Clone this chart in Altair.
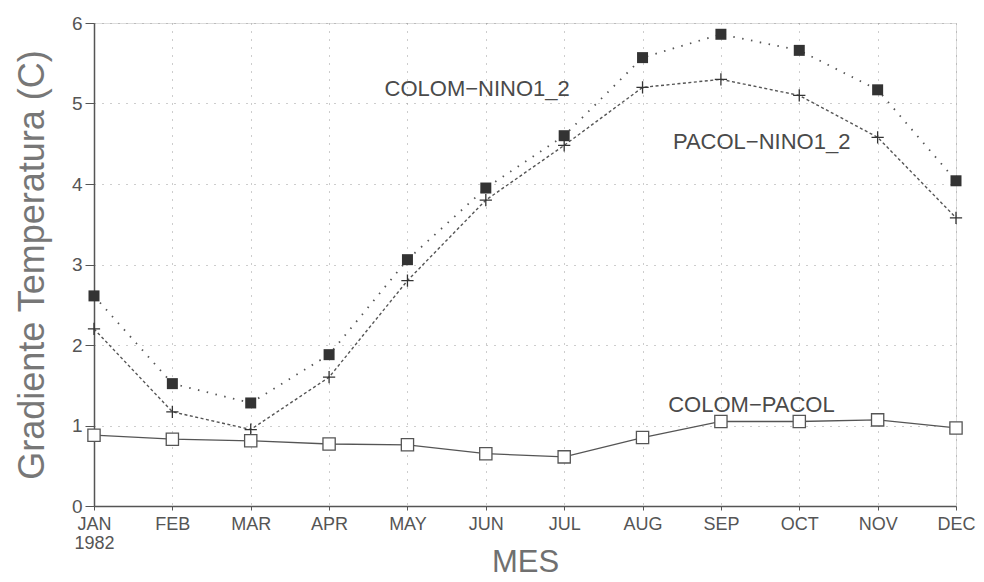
import altair as alt
import pandas as pd

months = ["JAN", "FEB", "MAR", "APR", "MAY", "JUN", "JUL", "AUG", "SEP", "OCT", "NOV", "DEC"]
year_label = "1982"
colom_nino = [2.61, 1.52, 1.28, 1.88, 3.06, 3.95, 4.60, 5.57, 5.86, 5.66, 5.17, 4.04]
pacol_nino = [2.20, 1.17, 0.95, 1.60, 2.80, 3.80, 4.48, 5.20, 5.30, 5.10, 4.58, 3.58]
colom_pacol = [0.88, 0.83, 0.81, 0.77, 0.76, 0.65, 0.61, 0.85, 1.05, 1.05, 1.07, 0.97]

label_text = ["COLOM\u2212NINO1_2", "PACOL\u2212NINO1_2", "COLOM\u2212PACOL"]
label_x = [4.89, 8.52, 8.39]
label_y = [5.18, 4.52, 1.25]

y_ticks = [0, 1, 2, 3, 4, 5, 6]

idx = list(range(len(months)))
df1 = pd.DataFrame({"m": idx, "v": colom_nino})
df2 = pd.DataFrame({"m": idx, "v": pacol_nino})
df3 = pd.DataFrame({"m": idx, "v": colom_pacol})
dlab = pd.DataFrame({"t": label_text, "x": label_x, "y": label_y})

ink = "#555555"
font = "Liberation Sans"

month_arr = "[" + ",".join(f"'{m}'" for m in months) + "]"
label_expr = f"datum.value == 0 ? [{month_arr}[0], '{year_label}'] : {month_arr}[datum.value]"

xs = alt.Scale(domain=[0, 11], nice=False, zero=False)
ys = alt.Scale(domain=[0, 6], nice=False)

x_axis = alt.Axis(
    values=idx, labelExpr=label_expr, title="MES", titleFontSize=31, titleFontWeight="normal",
    titleColor="#707070", titleFont=font, titleY=41, titleBaseline="top",
    labelFont=font, labelFontSize=18, labelColor=ink, labelPadding=5, labelLineHeight=19,
    tickSize=4, tickColor=ink, domainColor=ink, domainWidth=1.5, grid=True,
    gridDash=[1, 7], gridColor="#9a9a9a", gridWidth=1, labelFlush=False,
    labelOverlap=False, labelBound=False,
)
y_axis = alt.Axis(
    values=y_ticks, format="d", title="Gradiente Temperatura (C)", titleFontSize=36,
    titleFontWeight="normal", titleColor="#777777", titleFont=font, titlePadding=20,
    labelFont=font, labelFontSize=19, labelColor=ink, labelPadding=3, tickSize=9,
    tickColor=ink, domainColor=ink, domainWidth=1.5, grid=True, gridDash=[1, 7],
    gridColor="#9a9a9a", gridWidth=1, labelFlush=False,
)

X = alt.X("m:Q", scale=xs, axis=x_axis)
Y = alt.Y("v:Q", scale=ys, axis=y_axis)
X2 = alt.X("m:Q", scale=xs)
Y2 = alt.Y("v:Q", scale=ys)

l1 = alt.Chart(df1).mark_line(color=ink, strokeWidth=1.8, strokeDash=[1.5, 7.5]).encode(x=X, y=Y)
p1 = alt.Chart(df1).mark_point(shape="square", filled=True, color="#333333", size=121,
                               opacity=1).encode(x=X2, y=Y2)

l2 = alt.Chart(df2).mark_line(color=ink, strokeWidth=1.4, strokeDash=[3, 2.5]).encode(x=X2, y=Y2)
p2 = alt.Chart(df2).mark_point(shape="M-1,0L1,0M0,-1L0,1", filled=False, color="#333333",
                               size=150, strokeWidth=1.3, opacity=1).encode(x=X2, y=Y2)

l3 = alt.Chart(df3).mark_line(color=ink, strokeWidth=1.3).encode(x=X2, y=Y2)
p3 = alt.Chart(df3).mark_point(shape="square", filled=True, fill="white", stroke=ink,
                               strokeWidth=1.3, size=150, opacity=1).encode(x=X2, y=Y2)

txt = alt.Chart(dlab).mark_text(font=font, fontSize=22, color="#4a4a4a").encode(
    x=alt.X("x:Q", scale=xs), y=alt.Y("y:Q", scale=ys), text="t:N")

chart = alt.layer(l1, l2, l3, p1, p2, p3, txt).properties(
    width=862, height=483,
    autosize=alt.AutoSizeParams(type="none"),
    padding={"left": 86, "top": 15, "right": 20, "bottom": 68},
).configure_view(stroke=ink, strokeWidth=1.5).configure(background="white")

chart.save("out.html", embed_options={"renderer": "svg", "actions": False})
